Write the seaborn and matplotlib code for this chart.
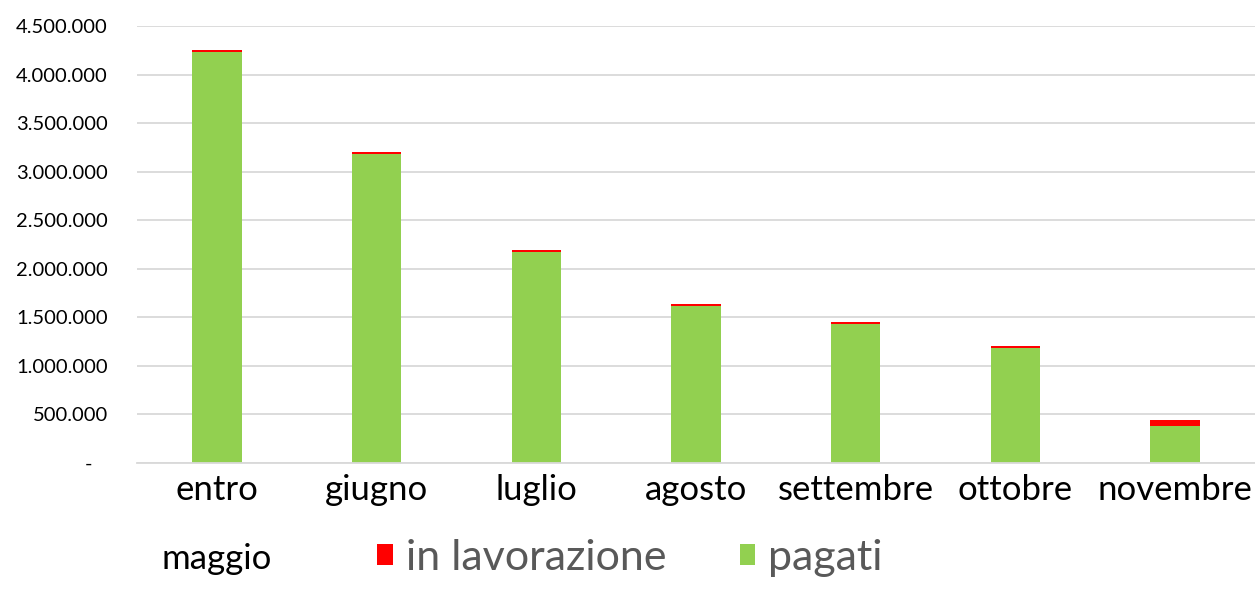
import matplotlib
matplotlib.use("Agg")
import matplotlib.pyplot as plt
import seaborn as sns
import pandas as pd
from matplotlib.patches import Patch
from matplotlib.ticker import FuncFormatter

categories = ["entro\nmaggio", "giugno", "luglio", "agosto", "settembre", "ottobre", "novembre"]
pagati = [4233000, 3185000, 2173000, 1617000, 1432000, 1184000, 381000]
in_lavorazione = [20000, 21000, 21000, 20000, 20000, 21000, 62000]
y_ticks = [0, 500000, 1000000, 1500000, 2000000, 2500000, 3000000, 3500000, 4000000, 4500000]

df = pd.DataFrame({"cat": categories, "pagati": pagati, "lav": in_lavorazione})
df["totale"] = df["pagati"] + df["lav"]

sns.set_theme(style="white")
plt.rcParams["font.family"] = ["Lato", "DejaVu Sans"]

RED = "#ff0000"
GREEN = "#92d050"

fig = plt.figure(figsize=(12.55, 5.94), dpi=100)
ax = fig.add_axes([137/1255, 131/594, 1 - 137/1255, 437/594])

sns.barplot(data=df, x="cat", y="totale", color=RED, width=0.31, ax=ax,
            saturation=1, linewidth=0)
sns.barplot(data=df, x="cat", y="pagati", color=GREEN, width=0.31, ax=ax,
            saturation=1, linewidth=0)

ax.set_ylim(0, 4500000)
ax.set_xlim(-0.5, len(categories) - 0.5)
ax.set_yticks(y_ticks)
def fmt(v, pos):
    if v == 0:
        return "-   "
    return f"{int(v):,}".replace(",", ".")
ax.yaxis.set_major_formatter(FuncFormatter(fmt))
ax.yaxis.grid(True, color="#d9d9d9", linewidth=1.3)
ax.set_axisbelow(True)
for s in ["top", "right", "left"]:
    ax.spines[s].set_visible(False)
ax.spines["bottom"].set_color("#d9d9d9")
ax.spines["bottom"].set_linewidth(1.3)
ax.tick_params(axis="y", length=0, pad=21, labelsize=14.5, labelcolor="#000000")
ax.tick_params(axis="x", length=0, pad=8, labelsize=25, labelcolor="#000000")
for t in ax.get_xticklabels():
    t.set_linespacing(2.4)
ax.set_xlabel("")
ax.set_ylabel("")

handles = [Patch(facecolor=RED, edgecolor="none"), Patch(facecolor=GREEN, edgecolor="none")]
fig.legend(handles, ["in lavorazione", "pagati"], loc="center", bbox_to_anchor=(630/1255, 1 - 558/594),
           ncol=2, frameon=False, fontsize=31, labelcolor="#595959",
           handlelength=0.36, handleheight=0.36, handletextpad=0.3, columnspacing=1.7)

fig.savefig("out.png", dpi=100)
